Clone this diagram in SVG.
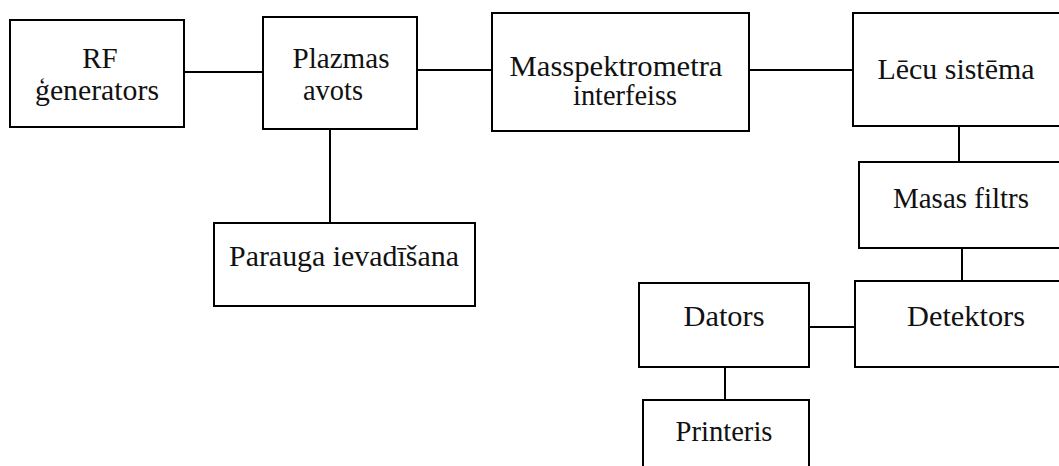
<svg xmlns="http://www.w3.org/2000/svg" width="1059" height="466" viewBox="0 0 1059 466">
<style>
.box{fill:#fff;stroke:#000;stroke-width:2}
.ln{stroke:#000;stroke-width:2;fill:none}
</style>
<rect width="1059" height="466" fill="#fff"/>
<g id="connectors">
<line class="ln" x1="184" y1="72" x2="263" y2="72"/>
<line class="ln" x1="417" y1="70" x2="492" y2="70"/>
<line class="ln" x1="749" y1="70" x2="853" y2="70"/>
<line class="ln" x1="330" y1="129" x2="330" y2="223"/>
<line class="ln" x1="959" y1="126" x2="959" y2="162"/>
<line class="ln" x1="962" y1="248" x2="962" y2="281"/>
<line class="ln" x1="809" y1="327" x2="855" y2="327"/>
<line class="ln" x1="725" y1="367" x2="725" y2="400"/>
</g>
<g font-family="Liberation Serif, serif" font-size="29" fill="#111" text-anchor="middle">
<g id="rf">
<rect class="box" x="10" y="20" width="174" height="107"/>
<text x="100" y="68">RF</text>
<text x="97" y="100" textLength="124" lengthAdjust="spacingAndGlyphs">&#291;enerators</text>
</g>
<g id="plazmas">
<rect class="box" x="263" y="17" width="154" height="112"/>
<text x="341" y="68" textLength="97" lengthAdjust="spacingAndGlyphs">Plazmas</text>
<text x="333" y="100" textLength="60" lengthAdjust="spacingAndGlyphs">avots</text>
</g>
<g id="masspektrometra">
<rect class="box" x="492" y="13" width="257" height="118"/>
<text x="616" y="76" textLength="213" lengthAdjust="spacingAndGlyphs">Masspektrometra</text>
<text x="625" y="105" textLength="104" lengthAdjust="spacingAndGlyphs">interfeiss</text>
</g>
<g id="lecu">
<rect class="box" x="853" y="13" width="220" height="113"/>
<text x="956" y="79" textLength="157" lengthAdjust="spacingAndGlyphs">L&#275;cu sist&#275;ma</text>
</g>
<g id="parauga">
<rect class="box" x="214" y="223" width="261" height="83"/>
<text x="344" y="266" textLength="230" lengthAdjust="spacingAndGlyphs">Parauga ievad&#299;&#353;ana</text>
</g>
<g id="masas">
<rect class="box" x="859" y="162" width="214" height="86"/>
<text x="961" y="208" textLength="136" lengthAdjust="spacingAndGlyphs">Masas filtrs</text>
</g>
<g id="detektors">
<rect class="box" x="855" y="281" width="218" height="86"/>
<text x="966" y="326" textLength="118" lengthAdjust="spacingAndGlyphs">Detektors</text>
</g>
<g id="dators">
<rect class="box" x="639" y="283" width="170" height="84"/>
<text x="724" y="326" textLength="81" lengthAdjust="spacingAndGlyphs">Dators</text>
</g>
<g id="printeris">
<rect class="box" x="643" y="400" width="166" height="80"/>
<text x="724" y="441" textLength="97" lengthAdjust="spacingAndGlyphs">Printeris</text>
</g>
</g>
</svg>
